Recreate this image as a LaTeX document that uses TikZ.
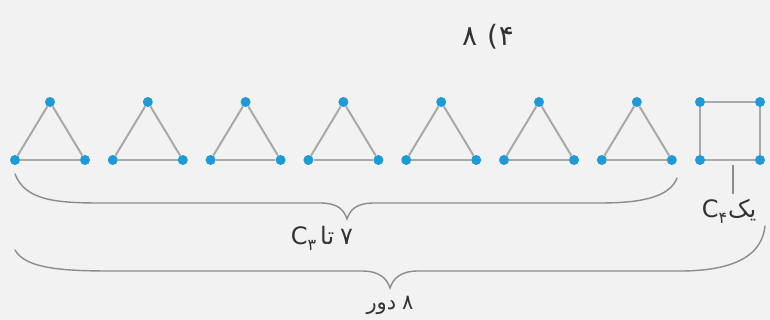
\documentclass[tikz,border=0pt]{standalone}
\usepackage{fontspec}
\setmainfont{DejaVu Sans}
\newfontfamily\arabicfont[Script=Arabic]{DejaVu Sans}
\TeXXeTstate=1
\definecolor{bgc}{HTML}{F2F2F2}
\definecolor{vertc}{HTML}{1E9AD6}
\definecolor{edgec}{HTML}{A9A9A9}
\definecolor{bracec}{HTML}{8C8C8C}
\begin{document}
\begin{tikzpicture}[x=1pt,y=-1pt,
  vtx/.style={circle,fill=vertc,inner sep=0pt,minimum size=10pt},
  edg/.style={draw=edgec,line width=2pt},
  brc/.style={draw=bracec,line width=1.4pt,line cap=round},
  big/.style={font=\fontsize{24}{28}\selectfont,text=black!80,inner sep=1pt},
  ttl/.style={font=\fontsize{28}{32}\selectfont,text=black!80,inner sep=1pt},
  small/.style={font=\fontsize{21}{24}\selectfont,text=black!80,inner sep=1pt}]
\fill[bgc] (0,0) rectangle (770,320);
\useasboundingbox (0,0) rectangle (770,320);
% title
\node[ttl] (title) at (488,37) {{\arabicfont ۸}\hspace{10pt}(\hspace{1pt}{\arabicfont ۴}};
% triangles
\foreach \i in {1,...,7}{
  \pgfmathsetmacro\cx{50+97.8*(\i-1)}
  \node[vtx] (t\i-a) at (\cx,102) {};
  \node[vtx] (t\i-b) at (\cx-35,160) {};
  \node[vtx] (t\i-c) at (\cx+35,160) {};
  \draw[edg] (t\i-a) -- (t\i-b);
  \draw[edg] (t\i-b) -- (t\i-c);
  \draw[edg] (t\i-c) -- (t\i-a);
}
% square
\node[vtx] (s1) at (700,102) {};
\node[vtx] (s2) at (760,102) {};
\node[vtx] (s3) at (760,160) {};
\node[vtx] (s4) at (700,160) {};
\draw[edg] (s1) -- (s2);
\draw[edg] (s2) -- (s3);
\draw[edg] (s3) -- (s4);
\draw[edg] (s4) -- (s1);
% pointer to square
\coordinate (sq) at (733,165);
\coordinate (pe) at (733,194);
\draw[draw=bracec,line width=1.2pt] (sq) -- (pe);
\node[big] (lsq) at (729,211) {C\raisebox{-0.45ex}{\fontsize{16}{18}\selectfont\arabicfont ۴}\hspace{1pt}{\arabicfont\beginR یک\endR}};
% brace 1
\draw[brc] (15,174) .. controls (25,200) and (55,203) .. (100,203) -- (320,203)
  .. controls (338,203) and (344,210) .. (347,219)
  .. controls (350,210) and (356,203) .. (374,203) -- (600,203)
  .. controls (645,203) and (670,196) .. (677,178);
\node[big] (l1) at (322,238) {C\raisebox{-0.45ex}{\fontsize{16}{18}\selectfont\arabicfont ۳}\hspace{4pt}{\arabicfont\beginR تا\endR}\hspace{6pt}{\arabicfont ۷}};
% brace 2
\draw[brc] (15,250) .. controls (25,268) and (60,271) .. (110,271) -- (362,271)
  .. controls (380,271) and (387,279) .. (390,288)
  .. controls (393,279) and (400,271) .. (418,271) -- (680,271)
  .. controls (735,271) and (762,255) .. (765,226);
\node[small] (l2) at (390,305) {\arabicfont\beginR ۸\hspace{6pt}دور\endR};
\end{tikzpicture}
\end{document}
